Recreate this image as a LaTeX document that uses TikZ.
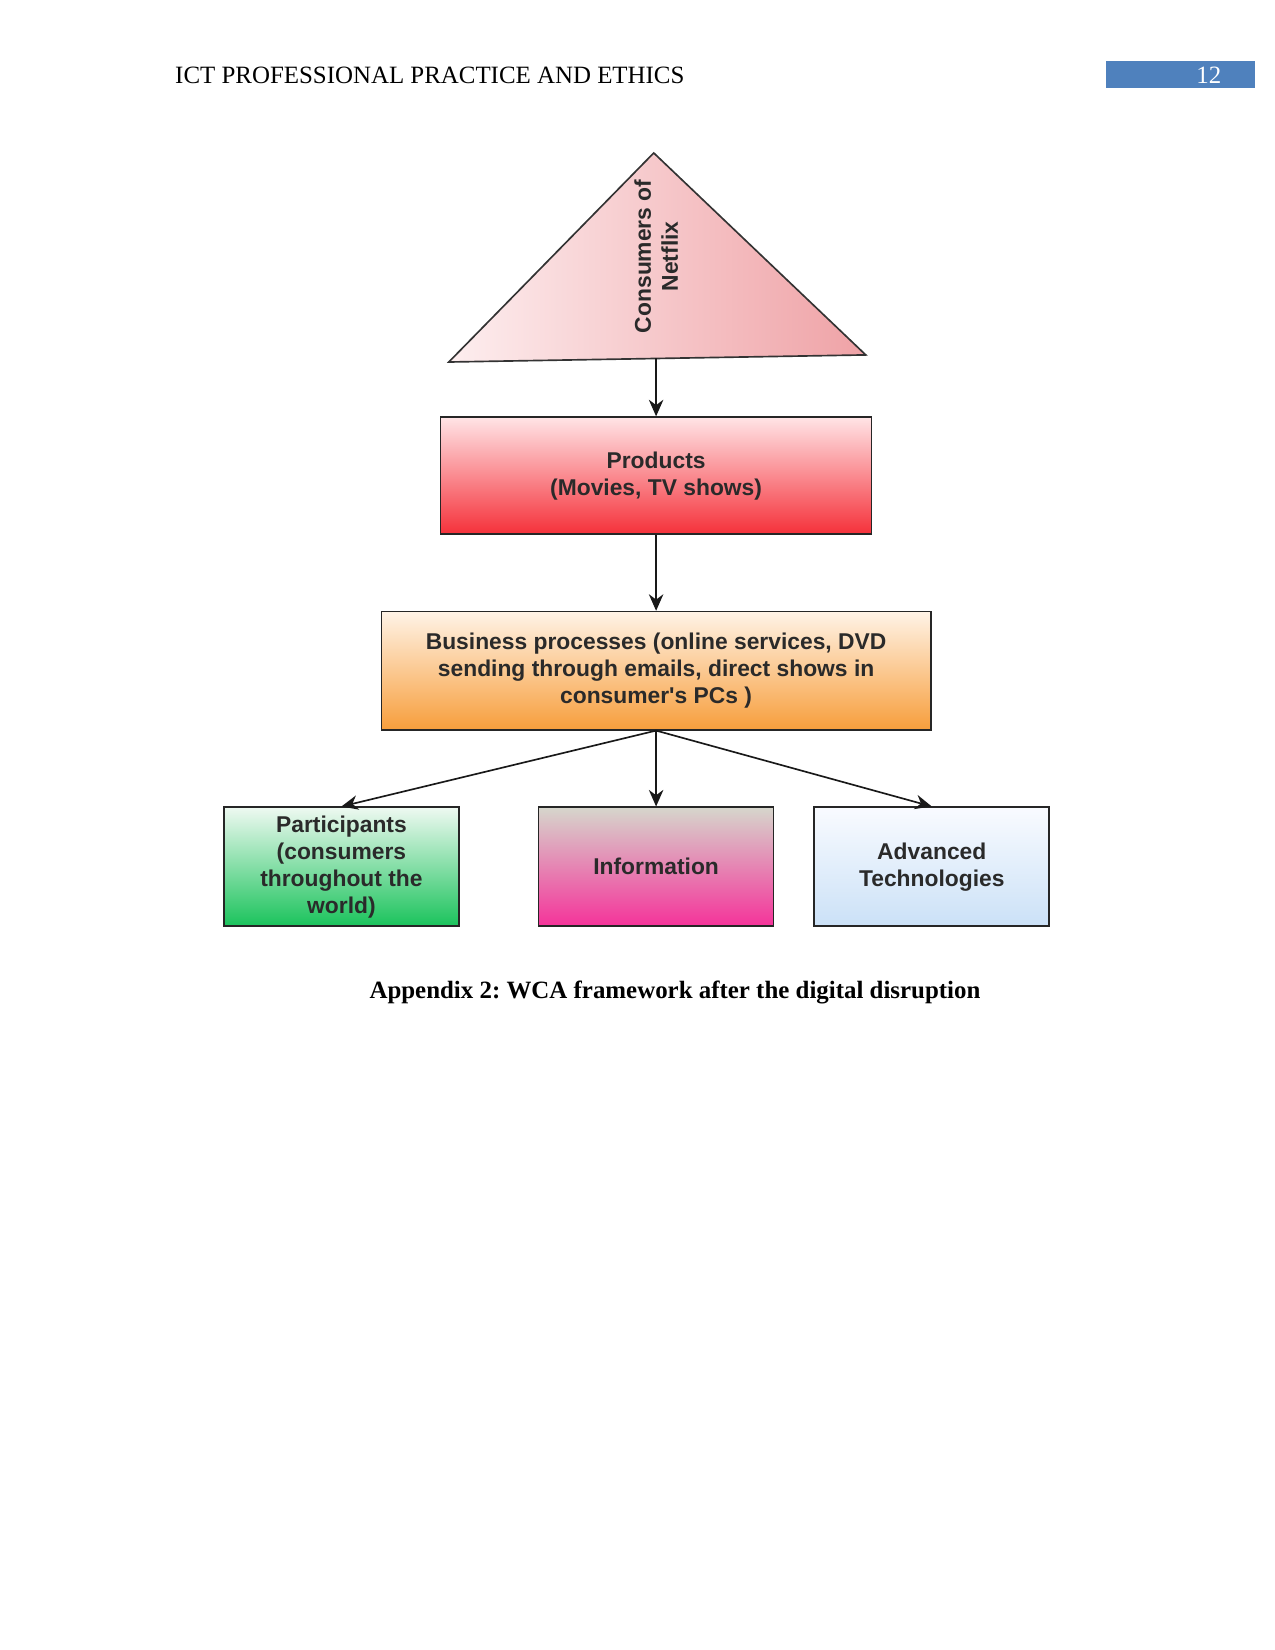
\documentclass[tikz,border=0pt]{standalone}
\usepackage{fontspec}
\setmainfont{Liberation Serif}
\setsansfont{Liberation Sans}
\newfontfamily\boxfont{Liberation Sans}
\usetikzlibrary{positioning, arrows.meta}
\definecolor{headerBlue}{HTML}{4F81BD}
\definecolor{boxText}{HTML}{2A2A2A}
\definecolor{triLeft}{HTML}{FDEEEF}
\definecolor{triRight}{HTML}{EFA2A6}
\definecolor{prodTop}{HTML}{FFE4E6}
\definecolor{prodBottom}{HTML}{F5313A}
\definecolor{procTop}{HTML}{FFF3E6}
\definecolor{procBottom}{HTML}{F79E3C}
\definecolor{partTop}{HTML}{EEF9F1}
\definecolor{partBottom}{HTML}{1BC35C}
\definecolor{infoTop}{HTML}{D6D6CC}
\definecolor{infoBottom}{HTML}{F5339A}
\definecolor{techTop}{HTML}{F9FBFF}
\definecolor{techBottom}{HTML}{CBE1F7}

\tikzset{
  wcabox/.style={draw=black!85, thick, align=center, inner sep=2pt,
                 font=\boxfont\bfseries\fontsize{11}{13}\selectfont, text=boxText},
  rowbox/.style={wcabox, minimum width=3.98cm, minimum height=2.01cm},
  flow/.style={-{Stealth[length=8pt, width=7pt]}, thick, black!90}
}

\begin{document}
\begin{tikzpicture}
  \useasboundingbox (0,0) rectangle (21.59,-27.94);

  % page header
  \node[anchor=west, inner sep=0pt, font=\fontsize{12}{14}\selectfont] (header)
    at (2.96,-1.27) {ICT PROFESSIONAL PRACTICE AND ETHICS};
  \fill[headerBlue] (18.73,-1.03) rectangle (21.25,-1.49);
  \node[inner sep=0pt, text=white, font=\fontsize{12}{14}\selectfont] (pageno)
    at (20.47,-1.27) {12};

  % consumers triangle
  \coordinate (apex) at (11.07,-2.59);
  \coordinate (baseL) at (7.60,-6.13);
  \coordinate (baseR) at (14.66,-6.01);
  \coordinate (tribase) at (11.11,-6.07);
  \shade[left color=triLeft, right color=triRight, draw=black!80, thick]
    (apex) -- (baseL) -- (baseR) -- cycle;
  \node[rotate=90, align=center, text=boxText,
        font=\boxfont\bfseries\fontsize{11}{13}\selectfont] (consumers)
    at (11.11,-4.34) {Consumers of\\Netflix};

  % chain of boxes
  \node[wcabox, minimum width=7.30cm, minimum height=1.98cm,
        top color=prodTop, bottom color=prodBottom, below=0.98cm of tribase] (products)
    {Products\\(Movies, TV shows)};
  \node[wcabox, minimum width=9.30cm, minimum height=2.00cm,
        top color=procTop, bottom color=procBottom, below=1.285cm of products] (processes)
    {Business processes (online services, DVD\\sending through emails, direct shows in\\consumer's PCs )};

  % bottom row
  \node[rowbox, top color=infoTop, bottom color=infoBottom, below=1.285cm of processes] (information)
    {Information};
  \node[rowbox, top color=partTop, bottom color=partBottom, left=1.32cm of information] (participants)
    {Participants\\(consumers\\throughout the\\world)};
  \node[rowbox, top color=techTop, bottom color=techBottom, right=0.66cm of information] (technologies)
    {Advanced\\Technologies};

  \draw[flow] (tribase) -- (products);
  \draw[flow] (products) -- (processes);
  \draw[flow] (processes.south) -- (participants.north);
  \draw[flow] (processes.south) -- (information.north);
  \draw[flow] (processes.south) -- (technologies.north);

  % caption
  \node[font=\bfseries\fontsize{12}{14}\selectfont] (caption) at (11.43,-16.80)
    {Appendix 2:\ WCA framework after the digital disruption};
\end{tikzpicture}
\end{document}
